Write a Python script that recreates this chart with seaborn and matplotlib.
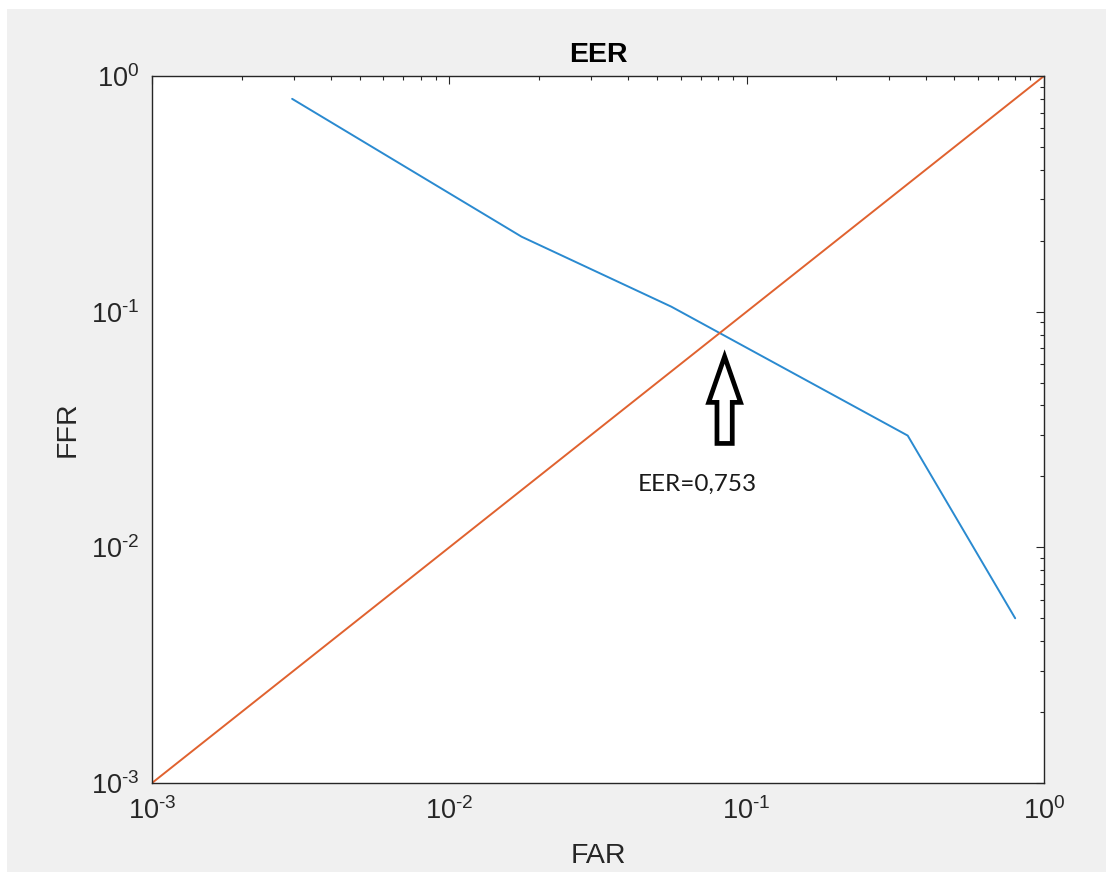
import numpy as np
import pandas as pd
import matplotlib
matplotlib.use("Agg")
import matplotlib.pyplot as plt
import seaborn as sns
from matplotlib.patches import Rectangle
from matplotlib.ticker import FuncFormatter

# DET curve
far_vals = [0.00296, 0.0175, 0.0558, 0.348, 0.80]
ffr_vals = [0.80, 0.208, 0.105, 0.0298, 0.0050]

# equal-error reference line
diag_vals = [1e-3, 1.0]

eer_label = "EER=0,753"
eer_far = 0.0843

sns.set_style("white")
plt.rcParams['font.family'] = ['Liberation Sans', 'DejaVu Sans']
plt.rcParams['mathtext.fontset'] = 'custom'
plt.rcParams['mathtext.rm'] = 'Liberation Sans'
plt.rcParams['mathtext.it'] = 'Liberation Sans:italic'
plt.rcParams['mathtext.bf'] = 'Liberation Sans:bold'


def pow10(v, pos):
    # matlab style 10^-3 with a short hyphen
    e = int(round(np.log10(v)))
    if e < 0:
        return r'$10^{\text{-}%d}$' % (-e)
    return r'$10^{%d}$' % e


dark = '#262626'
fig = plt.figure(figsize=(11.06, 8.72), dpi=100, facecolor='#f0f0f0')
fig.add_artist(Rectangle((0, 0), 7 / 1106, 1, transform=fig.transFigure,
                         facecolor='white', edgecolor='none'))
fig.add_artist(Rectangle((0, 1 - 9 / 872), 1, 9 / 872, transform=fig.transFigure,
                         facecolor='white', edgecolor='none'))
ax = fig.add_axes([152 / 1106, 1 - 783 / 872, 892 / 1106, 707 / 872])
ax.set_facecolor('white')

curve = pd.DataFrame({'FAR': far_vals, 'FFR': ffr_vals})
diag = pd.DataFrame({'FAR': diag_vals, 'FFR': diag_vals})
sns.lineplot(data=curve, x='FAR', y='FFR', ax=ax, color='#2a8ad0',
             lw=1.4, estimator=None, sort=False)
sns.lineplot(data=diag, x='FAR', y='FFR', ax=ax, color='#e0622f',
             lw=1.4, estimator=None, sort=False)

ax.set_xscale('log')
ax.set_yscale('log')
ax.set_xlim(1e-3, 1)
ax.set_ylim(1e-3, 1)
ax.set_xticks([1e-3, 1e-2, 1e-1, 1])
ax.set_yticks([1e-3, 1e-2, 1e-1, 1])
ax.xaxis.set_major_formatter(FuncFormatter(pow10))
ax.yaxis.set_major_formatter(FuncFormatter(pow10))

for s in ax.spines.values():
    s.set_color(dark)
    s.set_linewidth(1.0)
    s.set_visible(True)
ax.tick_params(which='both', direction='in', top=True, right=True,
               color=dark, labelcolor=dark, width=0.8)
ax.tick_params(which='major', length=5.8, labelsize=19.5)
ax.tick_params(which='minor', length=2.9)
ax.tick_params(axis='x', which='major', pad=10)
ax.tick_params(axis='y', which='major', pad=9)

ax.set_title('EER', fontsize=20.5, fontweight='bold', color='black', pad=10)
ax.set_xlabel('FAR', fontsize=20.5, color=dark)
ax.set_ylabel('FFR', fontsize=20.5, color=dark)
ax.xaxis.set_label_coords(0.5, -0.085)
ax.yaxis.set_label_coords(-0.08, 0.5)

# hollow arrow pointing at the crossing
ax.annotate('', xy=(eer_far, 0.0645), xytext=(eer_far, 0.0276),
            arrowprops=dict(arrowstyle='simple,head_length=33,head_width=23,tail_width=11',
                            mutation_scale=1, fc='white', ec='black', lw=3.4,
                            shrinkA=0, shrinkB=0, joinstyle='miter'))
ax.text(0.0684, 0.01858, eer_label, ha='center', va='center',
        fontsize=17.5, family=['Lato', 'DejaVu Sans'], color='#1a1a1a')

fig.savefig('out.png', dpi=100, facecolor=fig.get_facecolor())
